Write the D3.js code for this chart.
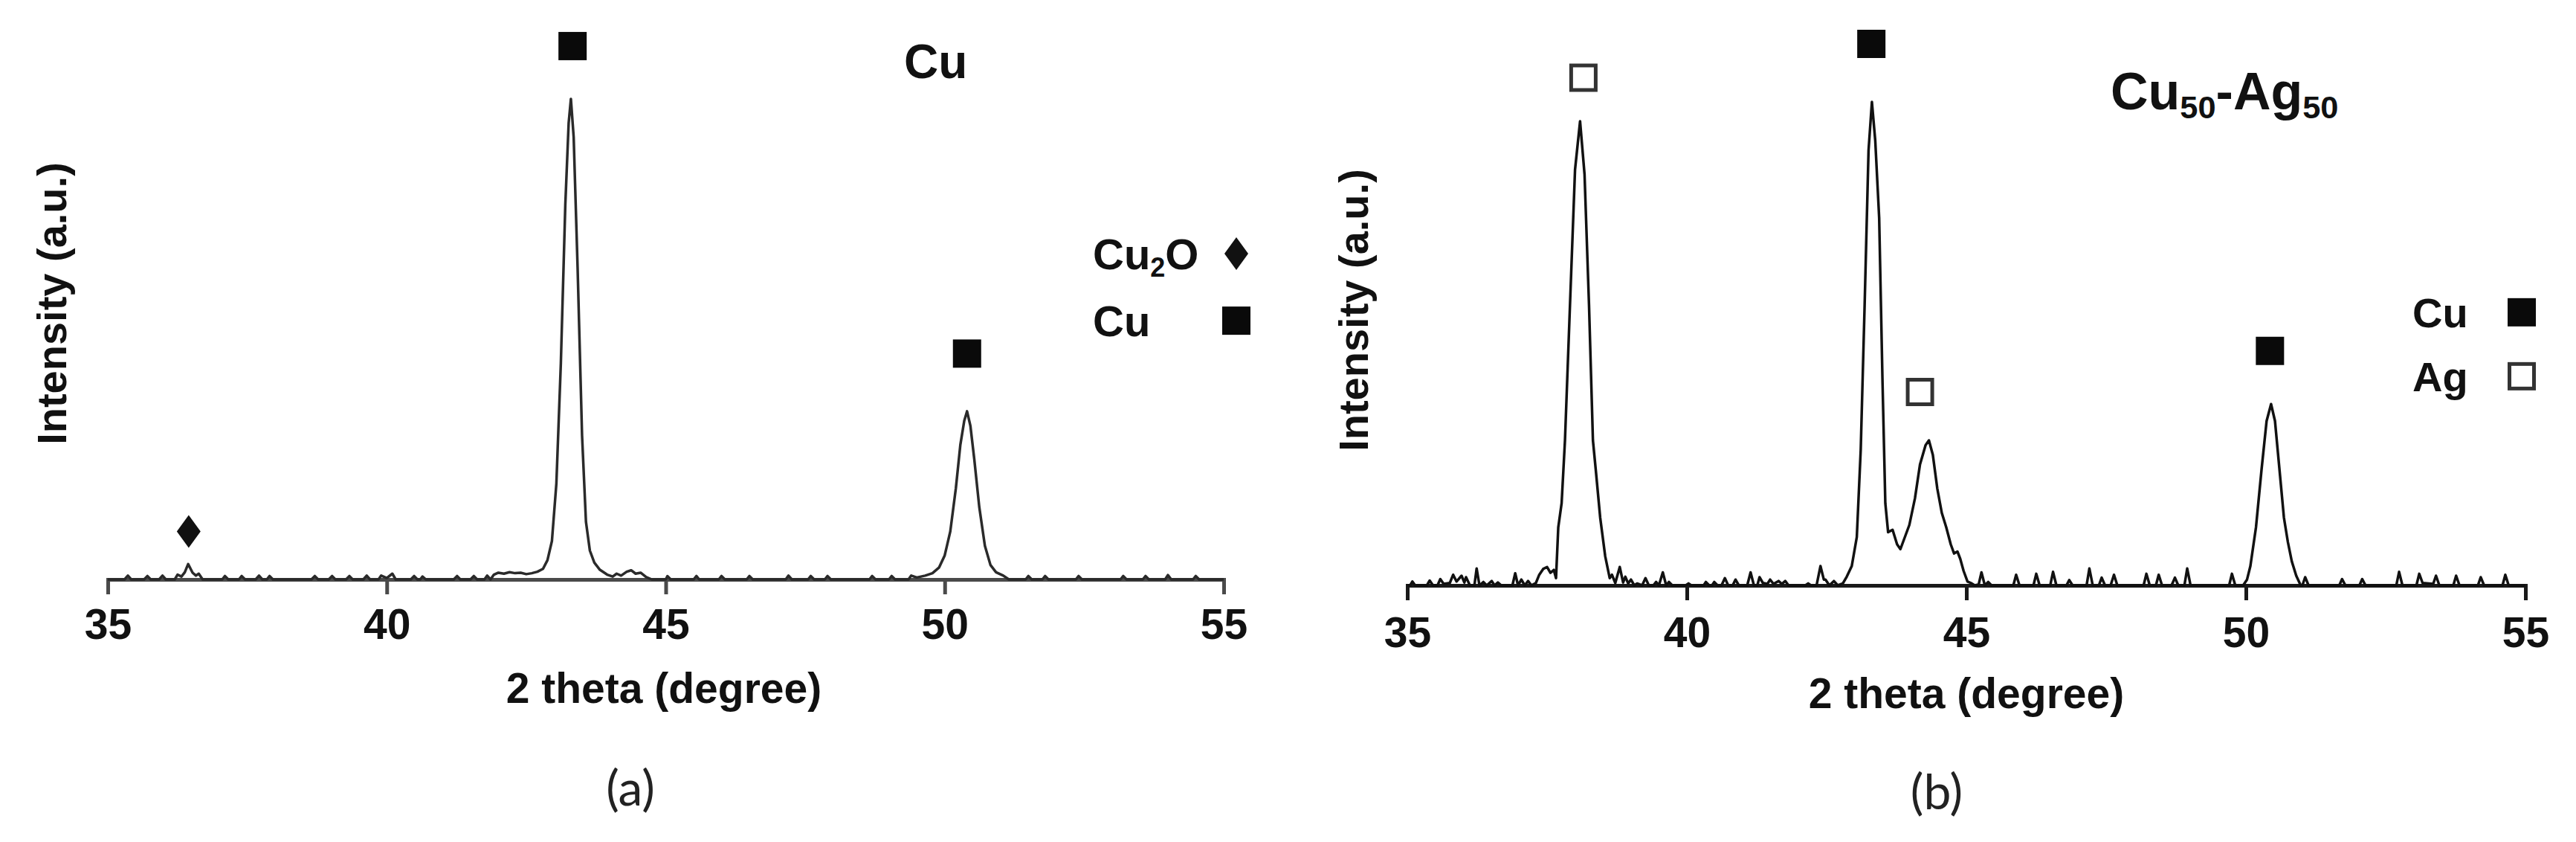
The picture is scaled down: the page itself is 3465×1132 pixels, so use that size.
<!DOCTYPE html>
<html>
<head>
<meta charset="utf-8">
<script src="https://cdn.jsdelivr.net/npm/d3@7"></script>
<style>
	body { margin: 0; background: #fff; }
	svg { display: block; }
	.axis text { font-family: 'Liberation Sans', Arial, sans-serif; font-weight: bold; font-size: 57px; fill: #111; }
	.trace { fill: none; stroke-width: 3.5; stroke-linejoin: round; }
	.lbl { font-family: 'Liberation Sans', Arial, sans-serif; font-weight: bold; fill: #111; }
	.caption { font-family: Lato, 'Open Sans', sans-serif; font-size: 66px; fill: #222; }
</style>
</head>
<body>
<div id="chart"></div>
<script>
// x axis ticks (2 theta, degree)
var thetaTicks = [35, 40, 45, 50, 55];

// panel (a) pure Cu : [2theta, intensity (a.u., tallest peak = 100)]
var cuPattern = [
	[35.0,0],[35.3,0],[35.36,0.8],[35.42,0],[35.65,0],[35.71,0.7],[35.77,0],[35.92,0],[35.98,0.8],[36.04,0],
	[36.2,0],[36.25,1],[36.32,0.6],[36.38,1.5],[36.44,3.2],[36.52,1.4],[36.58,0.8],[36.63,1.2],[36.7,0],
	[37.05,0],[37.1,0.7],[37.16,0],[37.35,0],[37.4,0.7],[37.46,0],[37.65,0],[37.71,0.8],[37.77,0],[37.85,0],
	[37.9,0.7],[37.96,0],[38.65,0],[38.71,0.7],[38.77,0],[38.96,0],[39.02,0.7],[39.08,0],[39.27,0],[39.33,0.7],
	[39.39,0],[39.58,0],[39.64,0.8],[39.7,0],[39.85,0],[39.9,0.8],[40.0,0.3],[40.1,1.2],[40.16,0],[40.43,0],
	[40.49,0.7],[40.55,0],[40.6,0],[40.64,0.6],[40.7,0],[41.2,0],[41.26,0.7],[41.32,0],[41.5,0],[41.56,0.7],
	[41.62,0],[41.75,0],[41.8,0.8],[41.86,0],[41.92,1],[42.0,1.4],[42.1,1.2],[42.2,1.5],[42.3,1.3],[42.4,1.4],
	[42.5,1.1],[42.6,1.3],[42.7,1.6],[42.8,2.2],[42.88,4],[42.96,8],[43.04,20],[43.12,45],[43.2,78],[43.26,95],
	[43.3,100],[43.35,92],[43.42,65],[43.5,30],[43.57,12],[43.64,6],[43.72,3.5],[43.82,2],[43.95,1],[44.05,0.6],
	[44.12,1.2],[44.2,0.8],[44.3,1.6],[44.38,1.9],[44.46,1.2],[44.55,1.4],[44.65,0.5],[44.75,0],[45.0,0],
	[45.03,0.7],[45.09,0],[45.5,0],[45.55,0.7],[45.6,0],[45.95,0],[46.0,0.7],[46.06,0],[46.45,0],[46.5,0.7],
	[46.56,0],[47.15,0],[47.2,0.8],[47.26,0],[47.55,0],[47.6,0.7],[47.66,0],[47.85,0],[47.9,0.7],[47.96,0],
	[48.65,0],[48.7,0.7],[48.76,0],[49.0,0],[49.05,0.7],[49.11,0],[49.35,0],[49.4,0.8],[49.5,0.4],[49.65,0.8],
	[49.78,1.3],[49.9,2.5],[50.0,5],[50.1,10],[50.2,19],[50.28,28],[50.35,33],[50.4,35],[50.46,32],[50.53,25],
	[50.62,15],[50.72,7],[50.82,3],[50.92,1.5],[51.05,0.8],[51.15,0],[51.45,0],[51.5,0.7],[51.56,0],[51.75,0],
	[51.8,0.7],[51.86,0],[52.35,0],[52.4,0.7],[52.46,0],[53.15,0],[53.2,0.7],[53.26,0],[53.55,0],[53.6,0.7],
	[53.66,0],[53.95,0],[54.0,0.9],[54.06,0],[54.45,0],[54.5,0.7],[54.56,0],[55.0,0]
];

// panel (b) Cu50-Ag50
var cuAgPattern = [
	[35.0,0],[35.05,0],[35.09,0.8],[35.14,0],[35.35,0],[35.4,1],[35.46,0],[35.54,0],[35.59,1.3],[35.65,0.3],
	[35.76,0.5],[35.82,2.2],[35.88,0.8],[35.97,2],[36.02,0.6],[36.05,1.7],[36.12,0],[36.2,0],[36.24,3.5],[36.29,0],
	[36.36,0.7],[36.42,0],[36.51,0.9],[36.56,0],[36.62,0.6],[36.68,0],[36.88,0],[36.93,2.5],[36.98,0],[37.04,1.2],
	[37.1,0],[37.16,0.9],[37.22,0],[37.3,0.5],[37.36,2.2],[37.43,3.4],[37.5,3.8],[37.56,2.6],[37.62,3.2],[37.66,1.5],
	[37.7,12],[37.76,17],[37.82,30],[37.9,55],[38.0,86],[38.09,96],[38.17,85],[38.25,58],[38.32,30],[38.37,24],
	[38.45,14],[38.54,6],[38.62,1.5],[38.66,2.2],[38.72,0.5],[38.8,3.8],[38.86,0.6],[38.9,1.8],[38.95,0.4],[39.0,1.2],
	[39.06,0],[39.11,0.4],[39.2,0],[39.26,1.5],[39.32,0],[39.4,0],[39.45,0.7],[39.5,0],[39.57,2.7],[39.63,0],
	[39.68,0.7],[39.74,0],[39.98,0],[40.03,0.4],[40.08,0],[40.3,0],[40.34,0.7],[40.4,0],[40.45,0],[40.49,0.7],
	[40.55,0],[40.62,0],[40.68,1.5],[40.74,0],[40.82,0],[40.87,1.2],[40.93,0],[41.08,0],[41.14,2.7],[41.2,0],
	[41.26,0],[41.3,1.7],[41.36,0.5],[41.44,0.3],[41.49,1.2],[41.55,0.3],[41.64,0.9],[41.7,0.3],[41.76,0.9],[41.82,0],
	[42.12,0],[42.17,0.4],[42.22,0],[42.32,0],[42.39,4],[42.45,1.2],[42.48,1.2],[42.55,0],[42.63,0.9],[42.7,0],
	[42.79,0.4],[42.86,1.8],[42.95,4],[43.04,10],[43.11,28],[43.18,58],[43.25,90],[43.31,100],[43.37,92],[43.44,76],
	[43.5,42],[43.55,17],[43.6,11],[43.68,11.5],[43.76,8.5],[43.82,7.5],[43.9,10],[43.98,12.5],[44.08,18],[44.17,25],
	[44.27,29],[44.33,30],[44.4,27],[44.48,20],[44.56,15],[44.64,12],[44.72,8.5],[44.78,6.6],[44.84,7],[44.89,5.5],
	[44.95,3],[45.02,0.8],[45.08,0.5],[45.15,0],[45.22,0.2],[45.27,2.7],[45.33,0],[45.39,0.7],[45.45,0],[45.84,0],
	[45.89,2.2],[45.95,0],[46.2,0],[46.25,2.4],[46.31,0],[46.5,0],[46.55,2.8],[46.61,0],[46.79,0],[46.84,1.1],
	[46.9,0],[47.15,0],[47.2,3.5],[47.26,0],[47.37,0],[47.42,1.6],[47.48,0],[47.58,0],[47.64,2.2],[47.7,0],
	[48.17,0],[48.22,2.4],[48.28,0],[48.39,0],[48.44,2.2],[48.5,0],[48.67,0],[48.73,1.6],[48.79,0],[48.9,0],
	[48.95,3.5],[49.01,0],[49.7,0],[49.75,2.4],[49.81,0],[49.95,0],[50.02,1.2],[50.08,4],[50.18,12],[50.28,24],
	[50.37,34],[50.45,37.5],[50.52,34],[50.6,24],[50.68,14],[50.75,9],[50.82,5],[50.9,2],[50.98,0],[51.01,0],
	[51.06,1.7],[51.12,0],[51.67,0],[51.72,1.3],[51.78,0],[52.03,0],[52.08,1.3],[52.14,0],[52.69,0],[52.74,2.8],
	[52.8,0],[53.05,0],[53.1,2.4],[53.16,0.5],[53.35,0.3],[53.4,2],[53.46,0],[53.71,0],[53.76,2],[53.82,0],
	[54.15,0],[54.2,1.7],[54.26,0],[54.59,0],[54.64,2.2],[54.7,0],[55.0,0]
];

// phase markers: 2theta, phase, marker level (intensity units)
var cuPeakTheta   = [36.45, 43.33, 50.40];
var cuPeakPhase   = ['Cu2O', 'Cu', 'Cu'];
var cuPeakLevel   = [10, 111, 47];

var cuAgPeakTheta = [38.15, 43.30, 44.17, 50.43];
var cuAgPeakPhase = ['Ag', 'Cu', 'Ag', 'Cu'];
var cuAgPeakLevel = [105, 112, 40, 48.5];

var phaseSymbol = { 'Cu2O': 'diamond', 'Cu': 'filled', 'Ag': 'open' };

var cuLegend   = [{ label: 'Cu_2O', phase: 'Cu2O' }, { label: 'Cu', phase: 'Cu' }];
var cuAgLegend = [{ label: 'Cu', phase: 'Cu' }, { label: 'Ag', phase: 'Ag' }];

var xTitle = '2 theta (degree)';
var yTitle = 'Intensity (a.u.)';

// write text with chemical subscripts ("Cu_2O")
function chemText(sel, str, subSize, shift) {
	var parts = str.split(/(_\d+)/);
	var down = false;
	parts.forEach(function(p) {
		if (!p) return;
		var t = sel.append('tspan');
		if (p[0] === '_') {
			t.text(p.slice(1)).attr('font-size', subSize).attr('dy', down ? 0 : shift);
			down = true;
		} else {
			t.text(p).attr('dy', down ? -shift : 0);
			down = false;
		}
	});
}

function XrdPanel(config) {
	var me = this;
	me.initConfig(config);
	me.draw();
}

XrdPanel.prototype.initConfig = function(config) {
	Object.assign(this, config);
	this.xScale = d3.scaleLinear().domain([35, 55]).range(this.xRange);
	this.yScale = d3.scaleLinear().domain([0, 100]).range(this.yRange);
	this.vis = this.svg.append('g').attr('class', 'panel');
}

XrdPanel.prototype.draw = function() {
	this.drawAxis();
	this.drawTrace();
	this.drawMarkers();
	this.drawLegend();
	this.drawLabels();
}

XrdPanel.prototype.drawAxis = function() {
	var me = this;
	var axis = d3.axisBottom(me.xScale)
		.tickValues(thetaTicks)
		.tickSize(20)
		.tickSizeOuter(20)
		.tickPadding(me.tickPadding)
		.tickFormat(d3.format('d'));

	var g = me.vis.append('g')
		.attr('class', 'axis')
		.attr('transform', 'translate(0,' + me.yRange[0] + ')')
		.call(axis);
	g.selectAll('path, line')
		.attr('stroke', me.axisColor)
		.attr('stroke-width', 5);
	g.selectAll('text').attr('font-size', null).attr('font-family', null);
}

XrdPanel.prototype.drawTrace = function() {
	var me = this;
	var line = d3.line()
		.x(function(d) { return me.xScale(d[0]); })
		.y(function(d) { return me.yScale(d[1]); });

	me.vis.append('path')
		.datum(me.pattern)
		.attr('class', 'trace')
		.attr('stroke', me.traceColor)
		.attr('d', line);
}

XrdPanel.prototype.symbol = function(g, kind, cx, cy) {
	var s = 38;
	if (kind === 'diamond') {
		var p = d3.path();
		p.moveTo(cx, cy - 22);
		p.lineTo(cx + 16, cy);
		p.lineTo(cx, cy + 22);
		p.lineTo(cx - 16, cy);
		p.closePath();
		g.append('path').attr('d', p.toString()).attr('fill', '#111');
	}
	else if (kind === 'filled') {
		g.append('rect')
			.attr('x', cx - s / 2).attr('y', cy - s / 2)
			.attr('width', s).attr('height', s)
			.attr('fill', '#0a0a0a');
	}
	else {
		g.append('rect')
			.attr('x', cx - s / 2 + 2.5).attr('y', cy - s / 2 + 2.5)
			.attr('width', s - 5).attr('height', s - 5)
			.attr('fill', '#fff')
			.attr('stroke', '#333')
			.attr('stroke-width', 5);
	}
}

XrdPanel.prototype.drawMarkers = function() {
	var me = this;
	var g = me.vis.append('g').attr('class', 'markers');
	me.peakTheta.forEach(function(t, i) {
		me.symbol(g, phaseSymbol[me.peakPhase[i]], me.xScale(t), me.yScale(me.peakLevel[i]));
	});
}

XrdPanel.prototype.drawLegend = function() {
	var me = this;
	var g = me.vis.append('g').attr('class', 'legend');
	me.legend.forEach(function(d, i) {
		var y = me.legendY[i];
		var t = g.append('text')
			.attr('class', 'lbl')
			.attr('x', me.legendTextX)
			.attr('y', y)
			.attr('font-size', me.legendFont);
		chemText(t, d.label, 36, 10);
		me.symbol(g, phaseSymbol[d.phase], me.legendSymX, y - me.legendFont * 0.36);
	});
}

XrdPanel.prototype.drawLabels = function() {
	var me = this;
	var t = me.vis.append('text')
		.attr('class', 'lbl')
		.attr('x', me.titleX)
		.attr('y', me.titleY)
		.attr('font-size', me.titleFont);
	chemText(t, me.title, me.titleFont * 0.62, 12);

	me.vis.append('text')
		.attr('class', 'lbl')
		.attr('text-anchor', 'middle')
		.attr('font-size', 57)
		.attr('x', me.xTitlePos[0])
		.attr('y', me.xTitlePos[1])
		.text(xTitle);

	me.vis.append('text')
		.attr('class', 'lbl')
		.attr('text-anchor', 'middle')
		.attr('font-size', 56)
		.attr('transform', 'translate(' + me.yTitlePos[0] + ',' + me.yTitlePos[1] + ') rotate(-90)')
		.text(yTitle);

	me.vis.append('text')
		.attr('class', 'caption')
		.attr('text-anchor', 'middle')
		.attr('x', me.captionPos[0])
		.attr('y', me.captionPos[1])
		.text(me.caption);
}

var svg = d3.select('#chart').append('svg')
	.attr('width', 3465)
	.attr('height', 1132);
svg.append('rect').attr('width', 3465).attr('height', 1132).attr('fill', '#fff');

new XrdPanel({
	svg: svg,
	pattern: cuPattern,
	xRange: [145, 1646],
	yRange: [779, 133],
	tickPadding: 20,
	axisColor: '#4a4a4a',
	traceColor: '#2a2a2a',
	peakTheta: cuPeakTheta,
	peakPhase: cuPeakPhase,
	peakLevel: cuPeakLevel,
	legend: cuLegend,
	legendTextX: 1470,
	legendY: [362, 452],
	legendFont: 58,
	legendSymX: 1663,
	title: 'Cu',
	titleX: 1216,
	titleY: 105,
	titleFont: 64,
	xTitlePos: [893, 945],
	yTitlePos: [89, 408],
	caption: '(a)',
	captionPos: [848, 1083]
});

new XrdPanel({
	svg: svg,
	pattern: cuAgPattern,
	xRange: [1893, 3397],
	yRange: [787, 137],
	tickPadding: 23,
	axisColor: '#1a1a1a',
	traceColor: '#111',
	peakTheta: cuAgPeakTheta,
	peakPhase: cuAgPeakPhase,
	peakLevel: cuAgPeakLevel,
	legend: cuAgLegend,
	legendTextX: 3245,
	legendY: [440, 526],
	legendFont: 56,
	legendSymX: 3392,
	title: 'Cu_50-Ag_50',
	titleX: 2839,
	titleY: 147,
	titleFont: 70,
	xTitlePos: [2645, 952],
	yTitlePos: [1840, 417],
	caption: '(b)',
	captionPos: [2605, 1088]
});
</script>
</body>
</html>
